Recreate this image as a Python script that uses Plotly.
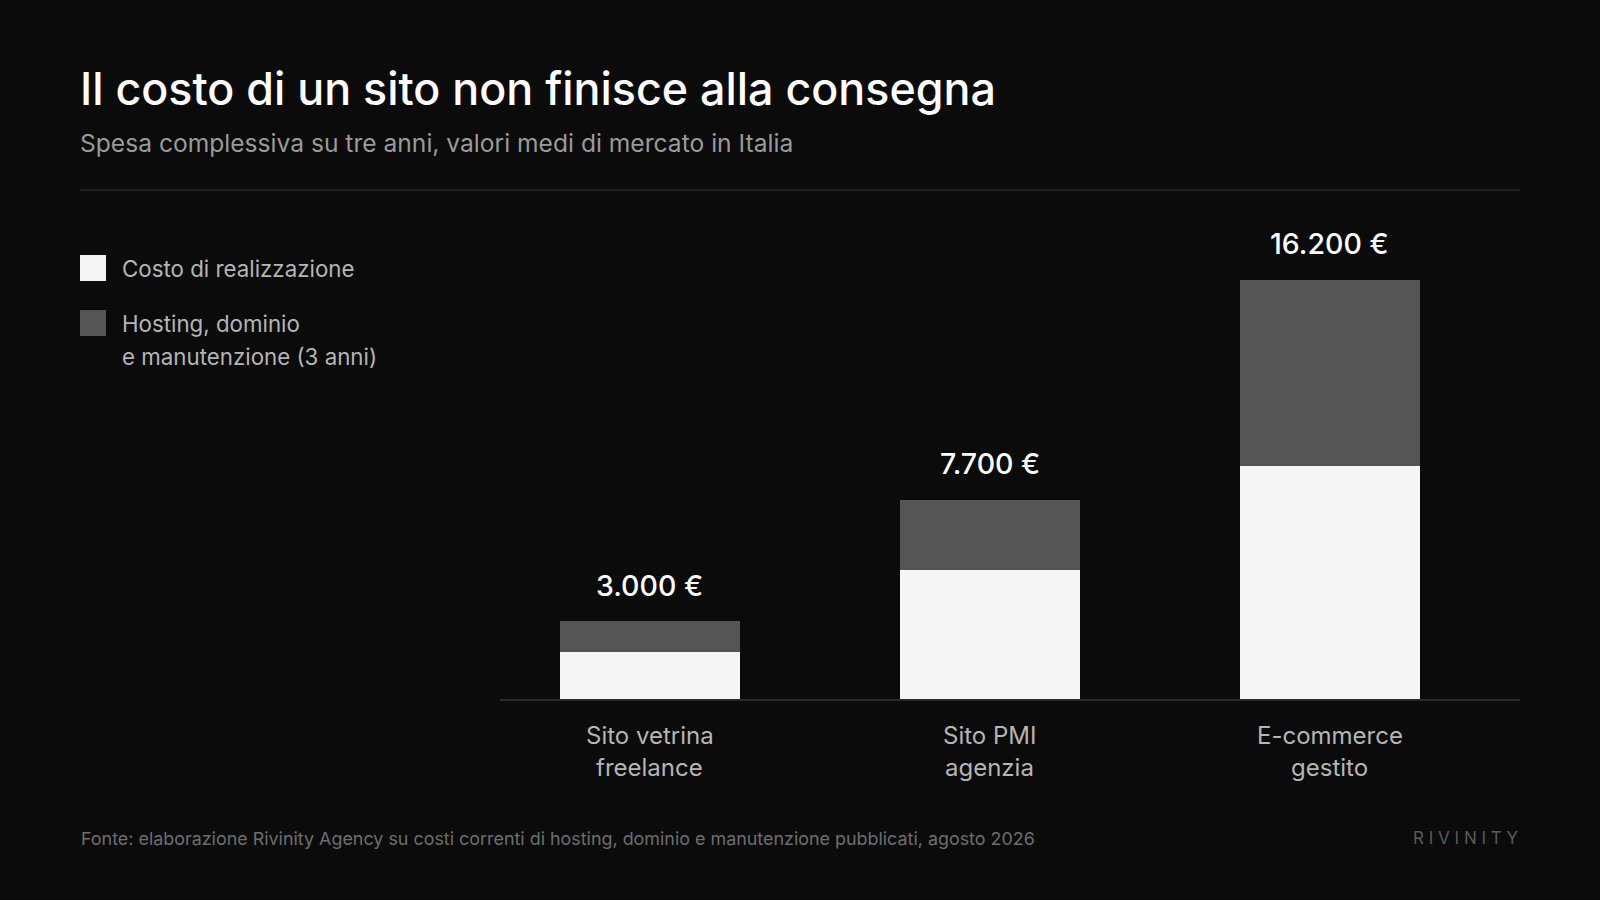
import plotly.graph_objects as go

categories = ["Sito vetrina freelance", "Sito PMI agenzia", "E-commerce gestito"]
category_lines = [["Sito vetrina", "freelance"], ["Sito PMI", "agenzia"], ["E-commerce", "gestito"]]
realizzazione = [1800, 5000, 9000]
hosting = [1200, 2700, 7200]
totals_labels = ["3.000 €", "7.700 €", "16.200 €"]
series_names = ["Costo di realizzazione", "Hosting, dominio e manutenzione (3 anni)"]
series_lines = [["Costo di realizzazione"], ["Hosting, dominio", "e manutenzione (3 anni)"]]
series_colors = ["#f5f5f5", "#555555"]

title = "Il costo di un sito non finisce alla consegna"
subtitle = "Spesa complessiva su tre anni, valori medi di mercato in Italia"
footer = "Fonte: elaborazione Rivinity Agency su costi correnti di hosting, dominio e manutenzione pubblicati, agosto 2026"
brand = "R I V I N I T Y"

W, H = 1600, 900
L, R, T, B = 500, 80, 220, 201
PW, PH = W - L - R, H - T - B
FONT = "Inter, Liberation Sans, Arial, sans-serif"

def px(p):
    return (p - L) / PW

def py(p):
    return (H - B - p) / PH

fig = go.Figure()
fig.add_trace(go.Bar(x=categories, y=realizzazione, marker=dict(color=series_colors[0], line=dict(width=0)),
                     name=series_names[0], hoverinfo="skip"))
fig.add_trace(go.Bar(x=categories, y=hosting, marker=dict(color=series_colors[1], line=dict(width=0)),
                     name=series_names[1], hoverinfo="skip"))

totals = [a + b for a, b in zip(realizzazione, hosting)]
annotations = []
for c, t, lab in zip(categories, totals, totals_labels):
    annotations.append(dict(x=c, y=t, xref="x", yref="y", text=lab, showarrow=False,
                            yanchor="middle", yshift=36,
                            font=dict(family=FONT, size=28.5, color="#ffffff", weight=500)))

LINE_GAP = 32.7
for c, lines in zip(categories, category_lines):
    for i, ln in enumerate(lines):
        annotations.append(dict(x=c, y=py(735 + i * LINE_GAP), xref="x", yref="paper", text=ln,
                                showarrow=False, yanchor="middle",
                                font=dict(family=FONT, size=24, color="#b5b5b5")))

annotations += [
    dict(x=px(78), y=py(89), xref="paper", yref="paper", text=title, showarrow=False,
         xanchor="left", yanchor="middle", font=dict(family=FONT, size=44.8, color="#ffffff", weight=500)),
    dict(x=px(78), y=py(143), xref="paper", yref="paper", text=subtitle, showarrow=False,
         xanchor="left", yanchor="middle", font=dict(family=FONT, size=24.6, color="#9a9a9a")),
    dict(x=px(79), y=py(838), xref="paper", yref="paper", text=footer, showarrow=False,
         xanchor="left", yanchor="middle", font=dict(family=FONT, size=17.9, color="#6e6e6e")),
    dict(x=px(1521), y=py(838), xref="paper", yref="paper", text=brand, showarrow=False,
         xanchor="right", yanchor="middle", font=dict(family=FONT, size=17, color="#5a5a5a")),
]

shapes = [
    dict(type="line", xref="paper", yref="paper", x0=px(80), x1=px(1520), y0=py(190), y1=py(190),
         line=dict(color="#2a2a2a", width=1.5)),
]

legend_tops = [255, 310]
for lines, color, top in zip(series_lines, series_colors, legend_tops):
    shapes.append(dict(type="rect", xref="paper", yref="paper", x0=px(80), x1=px(106),
                       y0=py(top), y1=py(top + 26), fillcolor=color, line=dict(width=0)))
    for i, ln in enumerate(lines):
        annotations.append(dict(x=px(120), y=py(top + 13.5 + i * LINE_GAP), xref="paper", yref="paper",
                                text=ln, showarrow=False, xanchor="left", yanchor="middle",
                                font=dict(family=FONT, size=22.3, color="#b5b5b5")))

fig.update_layout(
    width=W, height=H,
    margin=dict(l=L, r=R, t=T, b=B, autoexpand=False),
    paper_bgcolor="#0b0b0b", plot_bgcolor="#0b0b0b",
    barmode="stack", bargap=0.47,
    showlegend=False,
    annotations=annotations, shapes=shapes,
    xaxis=dict(range=[-0.44, 2.56], showgrid=False, zeroline=False, showline=True,
               linecolor="#2a2a2a", linewidth=2, ticks="", showticklabels=False, fixedrange=True),
    yaxis=dict(range=[0, 18500], showgrid=False, zeroline=False, showticklabels=False,
               showline=False, fixedrange=True),
)

fig.write_html("out.html", config={"displayModeBar": False},
               post_script="document.body.style.margin='0';document.body.style.background='#0b0b0b';")
